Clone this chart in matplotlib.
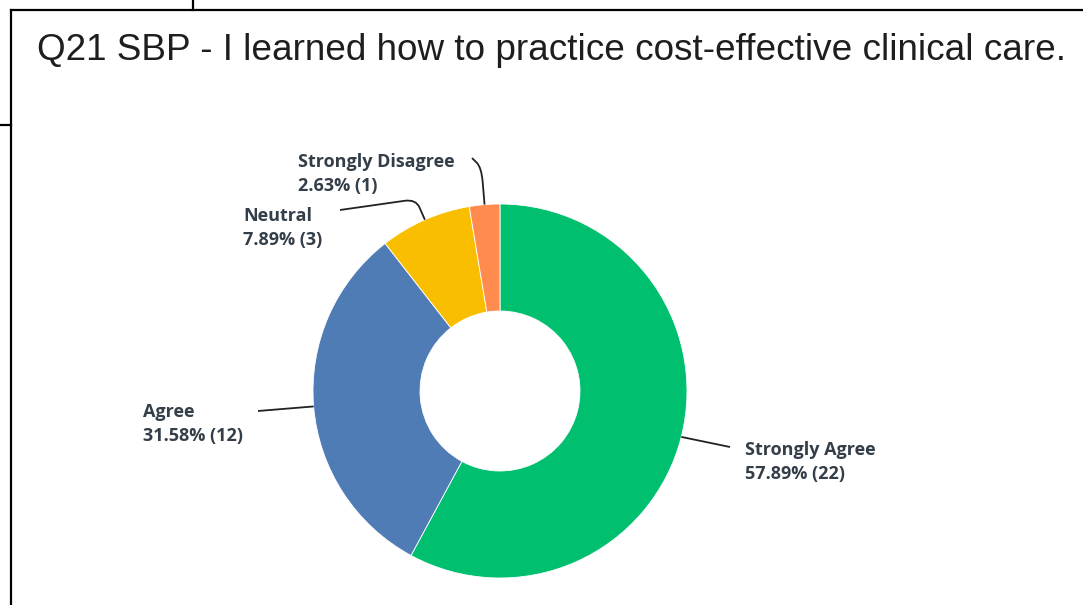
import numpy as np
import matplotlib
matplotlib.use('Agg')
import matplotlib.pyplot as plt
from matplotlib.lines import Line2D
from matplotlib.path import Path
from matplotlib.patches import PathPatch

# survey answers, clockwise from 12 o'clock
answers = ['Strongly Agree', 'Agree', 'Neutral', 'Strongly Disagree']
counts = [22, 12, 3, 1]
percents = [57.89, 31.58, 7.89, 2.63]
colors = ['#00bf6f', '#507cb6', '#f9be00', '#ff8b4f']
title = 'Q21 SBP - I learned how to practice cost-effective clinical care.'

# canvas in pixels, donut centre and radius
W, H = 1083, 605
cx, cy, R = 500, 391, 187
hole = 80 / R

# label layout in pixels: text left x, first baseline y, leader end point, elbow radius
label_pos = {
    'Strongly Agree': (745, 455, (730, 447), 1.1),
    'Agree': (143, 417, (258, 411), 1.1),
    'Neutral': (243, 221, (340, 210), 1.12),
    'Strongly Disagree': (298, 167, (472, 158), 1.2),
}


def px(x, y):
    return (x - cx) / R, (cy - y) / R


fig = plt.figure(figsize=(W / 100, H / 100), dpi=100)
ax = fig.add_axes([0, 0, 1, 1])

wedges, _ = ax.pie(counts, colors=colors, startangle=90, counterclock=False, radius=1,
                   wedgeprops=dict(width=1 - hole, edgecolor='white', linewidth=0.6))
ax.set_aspect('auto')
ax.set_xlim(-cx / R, (W - cx) / R)
ax.set_ylim(-(H - cy) / R, cy / R)
ax.axis('off')

label_color = '#333e48'
label_font = dict(fontsize=13, family='Open Sans', fontweight='bold', color=label_color)
for w, name, pct, n in zip(wedges, answers, percents, counts):
    ang = np.deg2rad((w.theta1 + w.theta2) / 2)
    x0, y0 = np.cos(ang), np.sin(ang)
    tx, ty, end, r_elbow = label_pos[name]
    ex, ey = px(*end)
    # leader: radial stub, rounded elbow, then on to the label
    elbow = np.array([r_elbow * x0, r_elbow * y0])
    start = np.array([x0, y0])
    endp = np.array([ex, ey])
    d_in = elbow - start
    d_out = endp - elbow
    cross = abs(d_in[0] * d_out[1] - d_in[1] * d_out[0]) / (np.linalg.norm(d_in) * np.linalg.norm(d_out))
    if cross < 0.15:
        verts = [start, endp]
        codes = [Path.MOVETO, Path.LINETO]
    else:
        a = elbow - d_in * 0.4
        b = elbow + d_out / np.linalg.norm(d_out) * min(0.06, np.linalg.norm(d_out) * 0.5)
        verts = [start, a, elbow, b, endp]
        codes = [Path.MOVETO, Path.LINETO, Path.CURVE3, Path.CURVE3, Path.LINETO]
    ax.add_patch(PathPatch(Path(verts, codes), fill=False, edgecolor='#222222', lw=1.3))

    lx, ly = px(tx, ty)
    ax.text(lx, ly, name, ha='left', va='baseline', **label_font)
    lx2, ly2 = px(tx, ty + 24)
    ax.text(lx2, ly2, f'{pct:.2f}% ({n})', ha='left', va='baseline', **label_font)

fig.text(37 / W, 1 - 60 / H, title, ha='left', va='baseline', fontsize=26.6,
         family='Liberation Sans', color='#1e1e1e')

# frame lines around the panel
for (x1, y1), (x2, y2) in [((11, 10), (W, 10)), ((193, 0), (193, 10)),
                           ((11, 10), (11, H)), ((0, 125), (11, 125))]:
    fig.add_artist(Line2D([x1 / W, x2 / W], [1 - y1 / H, 1 - y2 / H], transform=fig.transFigure,
                          color='black', lw=1.6))

fig.savefig('out.png', dpi=100)
